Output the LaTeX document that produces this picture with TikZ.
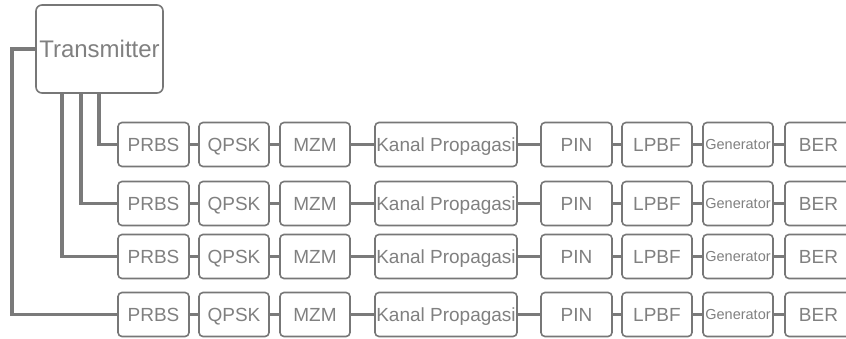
\documentclass[tikz,border=0pt]{standalone}
\usepackage{fontspec}
\setmainfont{Liberation Sans}
\definecolor{boxc}{HTML}{777777}
\definecolor{linec}{HTML}{7A7A7A}
\definecolor{txtc}{HTML}{808080}
\tikzset{
  blk/.style={draw=boxc, line width=1.6pt, rounded corners=4pt, fill=white,
    minimum height=44pt, inner sep=0pt, text=txtc, font=\fontsize{19}{19}\selectfont,
    text height=13.6pt, text depth=0pt},
  wire/.style={draw=linec, line width=3.8pt},
}
\begin{document}
\begin{tikzpicture}[x=1pt,y=-1pt]
\useasboundingbox (0,0) rectangle (846,338);
% transmitter
\node[blk, minimum width=127pt, minimum height=88pt, rounded corners=6pt,
  font=\fontsize{24}{24}\selectfont, text height=17.2pt] (tx) at (99.5,49) {Transmitter};
\coordinate (c1) at (99,0);
\coordinate (c2) at (81,0);
\coordinate (c3) at (62,0);
% rows
\foreach \r/\y in {1/144.5, 2/203.5, 3/256.5, 4/314.5}{
  \node[blk, minimum width=71pt] (p\r) at (153.5,\y) {PRBS};
  \node[blk, minimum width=70pt] (q\r) at (234,\y) {QPSK};
  \node[blk, minimum width=70pt] (m\r) at (315,\y) {MZM};
  \node[blk, minimum width=142pt] (k\r) at (446,\y) {Kanal Propagasi};
  \node[blk, minimum width=71pt] (n\r) at (576.5,\y) {PIN};
  \node[blk, minimum width=70pt] (l\r) at (657,\y) {LPBF};
  \node[blk, minimum width=70pt, font=\fontsize{14.5}{14.5}\selectfont, text height=10.4pt] (g\r) at (738,\y) {Generator};
  \node[blk, minimum width=67pt] (b\r) at (818.5,\y) {BER};
  \draw[wire] (p\r.east) -- (q\r.west);
  \draw[wire] (q\r.east) -- (m\r.west);
  \draw[wire] (m\r.east) -- (k\r.west);
  \draw[wire] (k\r.east) -- (n\r.west);
  \draw[wire] (n\r.east) -- (l\r.west);
  \draw[wire] (l\r.east) -- (g\r.west);
  \draw[wire] (g\r.east) -- (b\r.west);
}
% transmitter connections
\draw[wire] (tx.south -| c1) |- (p1.west);
\draw[wire] (tx.south -| c2) |- (p2.west);
\draw[wire] (tx.south -| c3) |- (p3.west);
\draw[wire] (tx.west) -- ++(-23,0) |- (p4.west);
\end{tikzpicture}
\end{document}
